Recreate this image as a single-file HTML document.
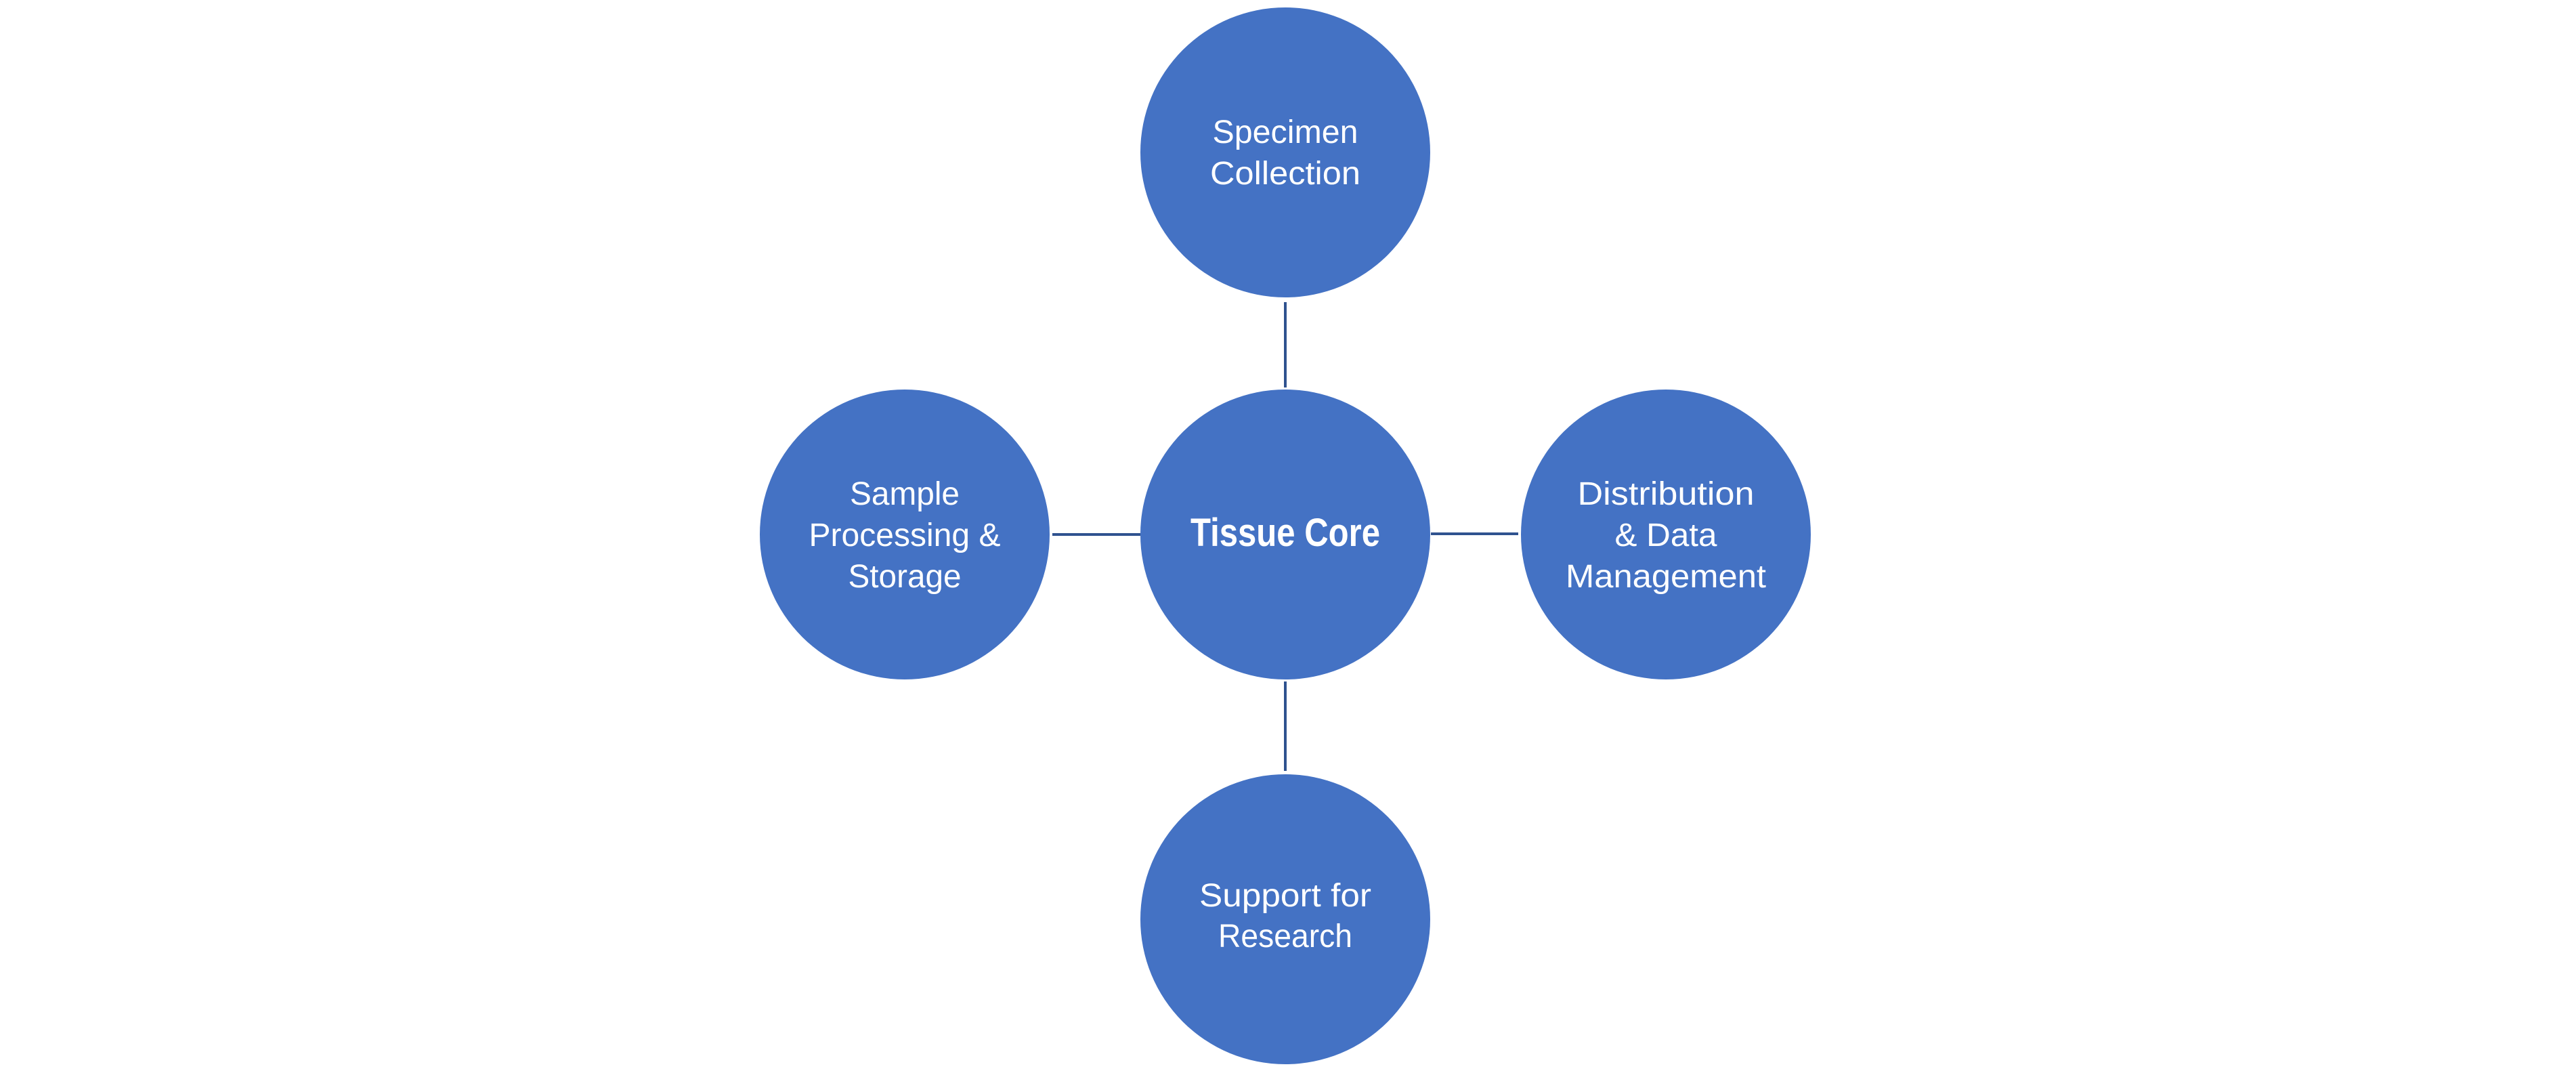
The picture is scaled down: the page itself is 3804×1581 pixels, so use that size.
<!DOCTYPE html>
<html><head><meta charset="utf-8"><style>html,body{margin:0;padding:0;background:#fff}svg{display:block}</style></head>
<body>
<svg width="3804" height="1581" viewBox="0 0 3804 1581" xmlns="http://www.w3.org/2000/svg">
<rect width="3804" height="1581" fill="#fff"/>
<g stroke="#2f528f" stroke-width="4">
<line x1="1898" y1="446" x2="1898" y2="572"/>
<line x1="1898" y1="1006" x2="1898" y2="1138"/>
<line x1="1554" y1="789" x2="1684" y2="789"/>
<line x1="2113" y1="788" x2="2242" y2="788"/>
</g>
<g fill="#4472c4">
<circle cx="1898" cy="789" r="214"/>
<circle cx="1898" cy="225" r="214"/>
<circle cx="1898" cy="1357" r="214"/>
<circle cx="1336" cy="789" r="214"/>
<circle cx="2460" cy="789" r="214"/>
</g>
<g fill="#fff" font-family="Liberation Sans, sans-serif" font-size="48" text-anchor="middle">
<text x="1898" y="806" font-weight="bold" font-size="58" textLength="280" lengthAdjust="spacingAndGlyphs">Tissue Core</text>
<text x="1898" y="211" textLength="215" lengthAdjust="spacingAndGlyphs">Specimen</text>
<text x="1898" y="272" textLength="222" lengthAdjust="spacingAndGlyphs">Collection</text>
<text x="1336" y="745" textLength="162" lengthAdjust="spacingAndGlyphs">Sample</text>
<text x="1336" y="806" textLength="283" lengthAdjust="spacingAndGlyphs">Processing &amp;</text>
<text x="1336" y="867" textLength="167" lengthAdjust="spacingAndGlyphs">Storage</text>
<text x="2460" y="745" textLength="261" lengthAdjust="spacingAndGlyphs">Distribution</text>
<text x="2460" y="806" textLength="151" lengthAdjust="spacingAndGlyphs">&amp; Data</text>
<text x="2460" y="867" textLength="296" lengthAdjust="spacingAndGlyphs">Management</text>
<text x="1898" y="1338" textLength="254" lengthAdjust="spacingAndGlyphs">Support for</text>
<text x="1898" y="1398" textLength="198" lengthAdjust="spacingAndGlyphs">Research</text>
</g>
</svg>
</body></html>
